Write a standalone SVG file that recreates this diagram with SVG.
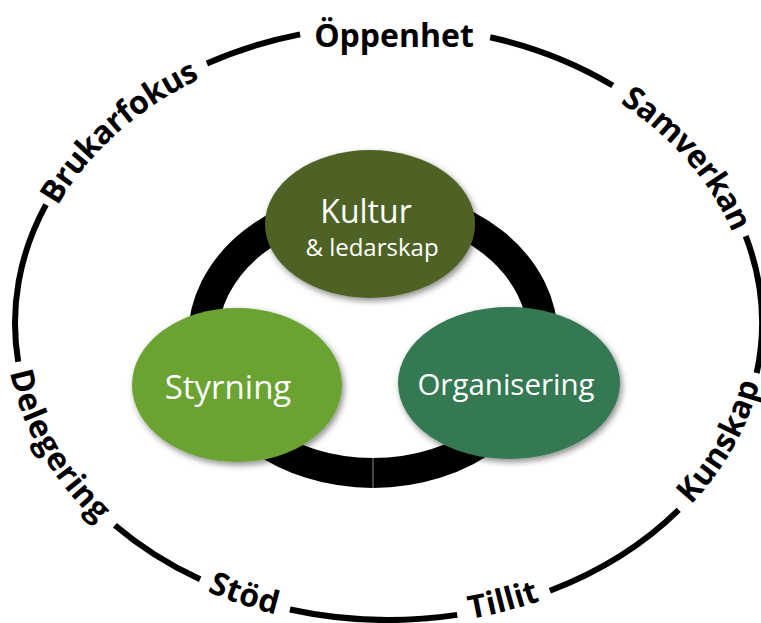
<svg xmlns="http://www.w3.org/2000/svg" xmlns:xlink="http://www.w3.org/1999/xlink" width="761" height="623" viewBox="0 0 761 623">
<style>
.seg{fill:none;stroke:#000;stroke-width:6}
.lbl{font-family:"Open Sans","Liberation Sans",sans-serif;font-weight:700;font-size:32px;fill:#000}
.nt{font-family:"Open Sans","Liberation Sans",sans-serif;fill:#fff;text-anchor:middle}
</style>
<defs>
<filter id="sh" x="-20%" y="-20%" width="140%" height="150%">
<feDropShadow dx="2" dy="3" stdDeviation="3" flood-color="#000" flood-opacity="0.45"/>
</filter>
<path id="pSam" d="M516.2 43.9 A373.5 297 0 0 1 762 323"/>
<path id="pBru" d="M17.9 285.8 A373.5 297 0 0 1 305.8 33.4"/>
<path id="pKun" d="M579.2 578.4 A373.5 297 0 0 0 755.5 267.8"/>
<path id="pTil" d="M279.3 607 A373.5 297 0 0 0 686.8 501.7"/>
<path id="pSto" d="M72.4 481.3 A373.5 297 0 0 0 467.4 613.3"/>
<path id="pDel" d="M20.5 272.4 A373.5 297 0 0 0 202.9 580.7"/>
</defs>
<rect width="761" height="623" fill="#fff"/>
<g id="connectors">
<path class="seg" d="M490.2 37.2 A373.5 297 0 0 1 612.8 85.5"/>
<path class="seg" d="M745.7 236.2 A373.5 297 0 0 1 756.7 373"/>
<path class="seg" d="M678.7 509.9 A373.5 297 0 0 1 549.9 590.8"/>
<path class="seg" d="M457.2 614.9 A373.5 297 0 0 1 289.9 609.5"/>
<path class="seg" d="M200.1 579.3 A373.5 297 0 0 1 114.9 525.2"/>
<path class="seg" d="M18.2 361.8 A373.5 297 0 0 1 46 204.6"/>
<path class="seg" d="M206.9 63.5 A373.5 297 0 0 1 300.1 34.4"/>
<ellipse cx="373" cy="338" rx="170" ry="135" fill="none" stroke="#000" stroke-width="30"/>
<line x1="373" y1="458" x2="373" y2="488" stroke="#8a8a8a" stroke-width="1"/>
</g>
<g id="label-oppenhet"><text class="lbl" x="394" y="47" text-anchor="middle">Öppenhet</text></g>
<g id="label-samverkan"><text class="lbl" text-anchor="middle" dy="11"><textPath xlink:href="#pSam" href="#pSam" startOffset="53%">Samverkan</textPath></text></g>
<g id="label-brukarfokus"><text class="lbl" text-anchor="middle" dy="11"><textPath xlink:href="#pBru" href="#pBru" startOffset="46.9%">Brukarfokus</textPath></text></g>
<g id="label-kunskap"><text class="lbl" text-anchor="middle" dy="5"><textPath xlink:href="#pKun" href="#pKun" startOffset="52.3%">Kunskap</textPath></text></g>
<g id="label-tillit"><text class="lbl" text-anchor="middle" dy="6"><textPath xlink:href="#pTil" href="#pTil" startOffset="51.6%">Tillit</textPath></text></g>
<g id="label-stod"><text class="lbl" text-anchor="middle" dy="8"><textPath xlink:href="#pSto" href="#pSto" startOffset="48%">Stöd</textPath></text></g>
<g id="label-delegering"><text class="lbl" text-anchor="middle" dy="10"><textPath xlink:href="#pDel" href="#pDel" startOffset="47.4%">Delegering</textPath></text></g>
<g id="node-kultur">
<ellipse cx="370" cy="224" rx="105" ry="74" fill="#4f6228" filter="url(#sh)"/>
<text class="nt" x="366" y="223" font-size="32">Kultur</text>
<text class="nt" x="372" y="256" font-size="24">&amp; ledarskap</text>
</g>
<g id="node-styrning">
<ellipse cx="237" cy="385" rx="105" ry="77" fill="#6aa330" filter="url(#sh)"/>
<text class="nt" x="228" y="399" font-size="33">Styrning</text>
</g>
<g id="node-organisering">
<ellipse cx="509" cy="383" rx="111" ry="76" fill="#347952" filter="url(#sh)"/>
<text class="nt" x="506" y="395" font-size="29.5">Organisering</text>
</g>
</svg>
